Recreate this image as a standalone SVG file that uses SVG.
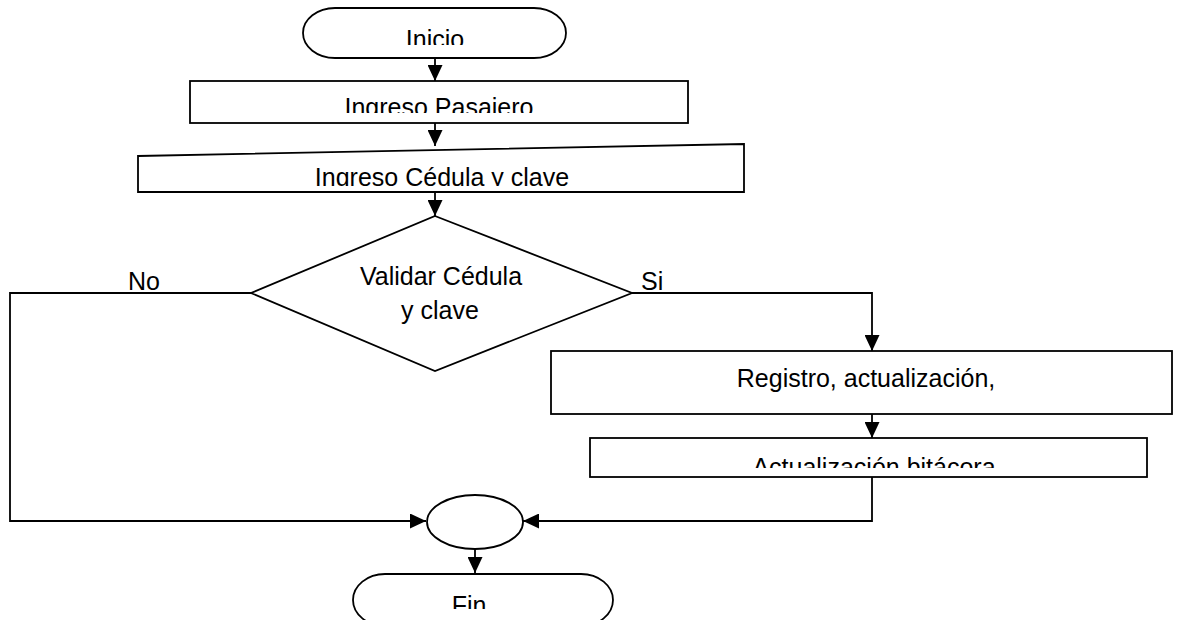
<svg xmlns="http://www.w3.org/2000/svg" width="1185" height="620" viewBox="0 0 1185 620">
  <style>
    .shape { fill: #ffffff; stroke: #000000; stroke-width: 1.8; }
    .link { fill: none; stroke: #000000; stroke-width: 1.8; }
    .label { font-family: "Liberation Sans", Arial, sans-serif; font-size: 25px; fill: #000000; }
    .mid { text-anchor: middle; }
  </style>
  <defs>
    <marker id="arrow" viewBox="0 0 16 15" refX="16" refY="7.5" markerWidth="16" markerHeight="15" markerUnits="userSpaceOnUse" orient="auto">
      <path d="M0,0 L16,7.5 L0,15 Z" fill="#000000"/>
    </marker>
    <!-- text windows: the labels show only their upper part -->
    <clipPath id="clipInicio"><rect x="303" y="10" width="263" height="35"/></clipPath>
    <clipPath id="clipPasajero"><rect x="191" y="82" width="496" height="31"/></clipPath>
    <clipPath id="clipCedula"><rect x="139" y="150" width="604" height="36"/></clipPath>
    <clipPath id="clipBitacora"><rect x="591" y="439" width="555" height="29"/></clipPath>
    <clipPath id="clipFin"><rect x="353" y="576" width="260" height="33"/></clipPath>
  </defs>

  <!-- connectors -->
  <g id="connectors">
    <line class="link" x1="435" y1="58" x2="435" y2="81" marker-end="url(#arrow)"/>
    <line class="link" x1="435" y1="123" x2="435" y2="146" marker-end="url(#arrow)"/>
    <line class="link" x1="435" y1="192" x2="435" y2="216" marker-end="url(#arrow)"/>
    <polyline class="link" points="632,293 872,293 872,351" marker-end="url(#arrow)"/>
    <line class="link" x1="872" y1="414" x2="872" y2="438" marker-end="url(#arrow)"/>
    <polyline class="link" points="251,293 10,293 10,521 426,521" marker-end="url(#arrow)"/>
    <polyline class="link" points="872,477 872,521 523,521" marker-end="url(#arrow)"/>
    <line class="link" x1="475" y1="549" x2="475" y2="573" marker-end="url(#arrow)"/>
    <text class="label" x="128" y="290">No</text>
    <text class="label" x="641" y="290">Si</text>
  </g>

  <g id="inicio">
    <rect class="shape" x="303" y="8" width="263" height="50" rx="32" ry="25"/>
    <text class="label mid" x="435" y="48" clip-path="url(#clipInicio)">Inicio</text>
  </g>

  <g id="ingreso-pasajero">
    <rect class="shape" x="190" y="81" width="498" height="42"/>
    <text class="label mid" x="439" y="116" clip-path="url(#clipPasajero)">Ingreso Pasajero</text>
  </g>

  <g id="ingreso-cedula">
    <polygon class="shape" points="138,156 744,144 744,192 138,192"/>
    <text class="label mid" x="442" y="186" clip-path="url(#clipCedula)">Ingreso Cédula y clave</text>
  </g>

  <g id="validar">
    <polygon class="shape" points="435,216 632,293 435,371 251,293"/>
    <text class="label mid" x="441" y="285">Validar Cédula</text>
    <text class="label mid" x="440" y="319">y clave</text>
  </g>

  <g id="registro">
    <rect class="shape" x="551" y="351" width="621" height="63"/>
    <text class="label mid" x="866" y="387">Registro, actualización,</text>
  </g>

  <g id="bitacora">
    <rect class="shape" x="590" y="438" width="557" height="39"/>
    <text class="label mid" x="874" y="476" clip-path="url(#clipBitacora)">Actualización bitácora</text>
  </g>

  <g id="conector">
    <ellipse class="shape" cx="475" cy="522" rx="48" ry="27"/>
  </g>

  <g id="fin">
    <rect class="shape" x="353" y="574" width="260" height="52" rx="32" ry="26"/>
    <text class="label mid" x="469" y="614" clip-path="url(#clipFin)">Fin</text>
  </g>
</svg>
